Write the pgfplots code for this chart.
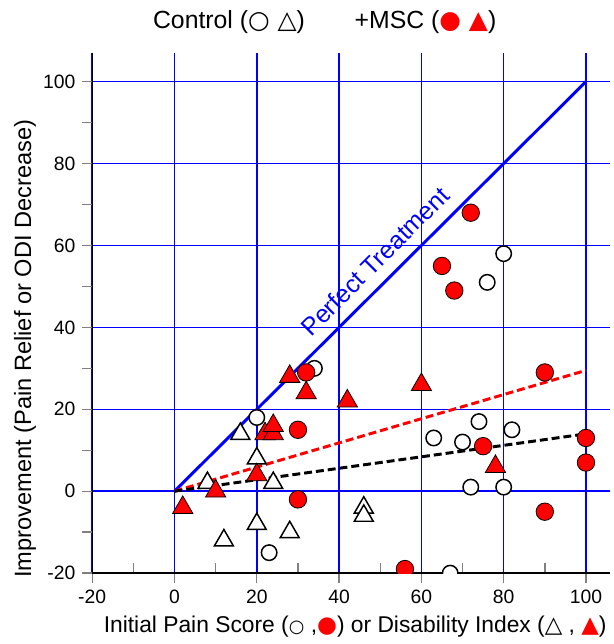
\documentclass[border=0pt]{standalone}
\usepackage{pgfplots}
\pgfplotsset{compat=1.18}
\usepackage{fontspec}
\setmainfont{Liberation Sans}
\newfontfamily\sym{DejaVu Sans}

\begin{document}
\begin{tikzpicture}
\begin{axis}[
  scale only axis, width=261pt, height=262.5pt,
  xmin=-20, xmax=105.8, ymin=-20, ymax=107.1,
  axis x line*=bottom, axis y line*=left,
  axis line style={-, line width=0.7pt},
  xtick={-20,0,...,100}, ytick={-20,0,...,100}, minor tick num=1,
  tick align=outside, major tick length=5pt, minor tick length=5pt,
  tick style={line width=0.7pt},
  minor x tick style={yshift=5pt},
  grid=major, major grid style={blue, line width=0.75pt},
  ticklabel style={font=\fontsize{9.75}{11}\selectfont},
  /pgf/number format/assume math mode=true,
  xlabel style={font=\fontsize{11.5}{13.8}\selectfont, at={(axis description cs:0.508,-0.103)}, anchor=center},
  ylabel style={font=\fontsize{11.9}{14.3}\selectfont, at={(axis description cs:-0.130,0.431)}, anchor=center},
  xlabel={Initial Pain Score ({\sym\small ○} ,{\sym\color{red}●}) or Disability Index ({\sym △} , {\sym\color{red}▲})},
  ylabel={Improvement (Pain Relief or ODI Decrease)},
  clip mode=individual, clip marker paths=true,
]
\addplot[blue, line width=1.5pt] coordinates {(0,0) (100,100)};
\addplot[red, line width=1.5pt, dash pattern=on 4pt off 2pt] coordinates {(0,0) (100,29.5)};
\addplot[black, line width=1.5pt, dash pattern=on 4pt off 2pt] coordinates {(0,0) (100,14)};

% control, pain score
\addplot[only marks, mark=*, mark size=3.9pt, mark options={draw=black, fill=white, line width=0.75pt}]
  coordinates {(20,18) (34,30) (23,-15) (80,58) (76,51) (74,17) (82,15) (63,13) (70,12) (72,1) (80,1) (67,-20)};
% control, disability index
\addplot[only marks, mark=triangle*, mark size=5.5pt, mark options={draw=black, fill=white, line width=0.75pt}]
  coordinates {(8,2) (16,14) (20,8) (24,2) (46,-4) (46,-6) (20,-8) (28,-10) (12,-12)};
% MSC, pain score
\addplot[only marks, mark=*, mark size=4.4pt, mark options={draw=none, fill=red}]
  coordinates {(32,29) (30,15) (30,-2) (72,68) (65,55) (68,49) (90,29) (75,11) (100,13) (100,7) (90,-5) (56,-19)};
% MSC, disability index
\addplot[only marks, mark=triangle*, mark size=5.9pt, mark options={draw=none, fill=red}]
  coordinates {(28,28) (32,24) (42,22) (22,14) (24,14) (24,16) (20,4) (10,0) (2,-4) (60,26) (78,6)};

\node[rotate=45, text=blue, font=\fontsize{12.5}{14}\selectfont] at (axis cs:48.7,56.1) {Perfect Treatment};
\node[font=\fontsize{12.5}{14}\selectfont] at (axis cs:13.25,114.5) {Control ({\sym ○ △})};
\node[font=\fontsize{12.5}{14}\selectfont] at (axis cs:61,114.5) {+MSC ({\sym\color{red}● ▲})};
\end{axis}
\path ([xshift=-46.5pt,yshift=-33pt]current axis.south west) rectangle ([yshift=26.5pt]current axis.north east);
\end{tikzpicture}
\end{document}
